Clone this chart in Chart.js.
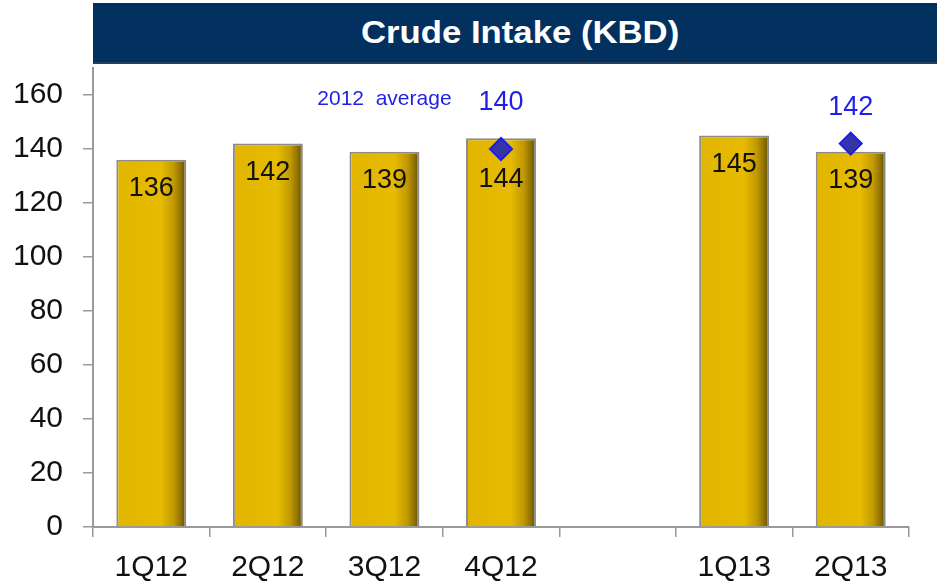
<!DOCTYPE html>
<html>
<head>
<meta charset="utf-8">
<script src="https://cdn.jsdelivr.net/npm/chart.js@4"></script>
<style>
  html, body { margin: 0; padding: 0; background: #fff; }
  #wrap { position: relative; width: 937px; height: 583px; }
  #title {
    position: absolute; left: 93px; top: 3px; width: 844px; height: 59px;
    background: #02315f; border-bottom: 2px solid #28405a;
    color: #fff; font: bold 31px "Liberation Sans", Arial, sans-serif;
    display: flex; align-items: center; justify-content: center;
  }
  #title span { display: inline-block; transform: scaleX(1.12); margin-left: 10px; }
  canvas { position: absolute; left: 0; top: 0; }
</style>
</head>
<body>
<div id="wrap">
  <canvas id="chart" width="937" height="583"></canvas>
  <div id="title"><span>Crude Intake (KBD)</span></div>
</div>
<script>
// quarters (blank slot separates the two years)
const quarters = ['1Q12', '2Q12', '3Q12', '4Q12', '', '1Q13', '2Q13'];
const intake = [136, 142, 139, 144, null, 145, 139];
const averages = [null, null, null, 140, null, null, 142];
const avgNote = '2012  average';
const avgNoteAt = { index: 2, value: 158.5 };
const yTicks = { min: 0, max: 170, step: 20 };

const font = '"Liberation Sans", Arial, sans-serif';
const barPct = 0.6;

let goldFill = (c) => {
    const chart = c.chart;
    const xs = chart.scales.x;
    if (!xs || !chart.chartArea) return '#e3b600';
    const cx = xs.getPixelForValue(c.dataIndex);
    const w = xs.width / quarters.length * barPct;
    const g = chart.ctx.createLinearGradient(cx - w / 2, 0, cx + w / 2, 0);
    g.addColorStop(0, '#e2b500');
    g.addColorStop(0.64, '#e6bb00');
    g.addColorStop(0.82, '#c29a00');
    g.addColorStop(0.93, '#8c7000');
    g.addColorStop(1, '#5e4b00');
    return g;
}

const valueLabels = {
    id: 'valueLabels',
    afterDatasetsDraw(chart) {
        const ctx = chart.ctx;
        const bars = chart.getDatasetMeta(1);
        const pts = chart.getDatasetMeta(0);
        ctx.save();
        ctx.textAlign = 'center';
        ctx.textBaseline = 'middle';

        // bar values, pushed below the diamond when one sits on the bar
        ctx.font = '27px ' + font;
        ctx.fillStyle = '#111';
        bars.data.forEach((el, i) => {
            if (intake[i] == null) return;
            let y = el.y + 29;
            if (averages[i] != null) y = Math.max(y, pts.data[i].y + 31);
            ctx.fillText(String(intake[i]), el.x, y);
        });

        // average values above the higher of bar top / diamond
        ctx.fillStyle = '#1f1fe6';
        pts.data.forEach((el, i) => {
            if (averages[i] == null) return;
            const top = intake[i] != null ? Math.min(el.y, bars.data[i].y) : el.y;
            ctx.fillText(String(averages[i]), el.x, top - 36);
        });

        ctx.font = '21px ' + font;
        ctx.fillText(avgNote,
            chart.scales.x.getPixelForValue(avgNoteAt.index),
            chart.scales.y.getPixelForValue(avgNoteAt.value));
        ctx.restore();
    }
};

new Chart(document.getElementById('chart'), {
    type: 'bar',
    data: {
        labels: quarters,
        datasets: [
            {
                type: 'line',
                label: '2012 average',
                data: averages,
                showLine: false,
                pointStyle: 'rectRot',
                pointRadius: 11,
                backgroundColor: '#3535a8',
                borderColor: '#1c1cf0',
                borderWidth: 2,
                order: 0
            },
            {
                label: 'Crude Intake',
                data: intake,
                backgroundColor: goldFill,
                borderColor: '#8c8c8c',
                borderWidth: 2,
                barPercentage: barPct,
                categoryPercentage: 1,
                order: 1
            }
        ]
    },
    options: {
        responsive: false,
        animation: false,
        layout: { padding: { top: 68, right: 28, left: 0, bottom: 0 } },
        plugins: { legend: { display: false }, tooltip: { enabled: false } },
        scales: {
            x: {
                grid: { drawOnChartArea: false, tickLength: 10, color: '#9a9a9a', lineWidth: 1.5, offset: true },
                border: { color: '#9a9a9a', width: 2 },
                ticks: { color: '#111', font: { family: font, size: 30 }, padding: 13, maxRotation: 0 },
                afterFit: (s) => { s.height = 56; }
            },
            y: {
                min: yTicks.min,
                max: yTicks.max,
                grid: { drawOnChartArea: false, tickLength: 10, color: '#9a9a9a', lineWidth: 1.5 },
                border: { color: '#9a9a9a', width: 2 },
                ticks: { stepSize: yTicks.step, includeBounds: false, color: '#111', font: { family: font, size: 30 }, padding: 20 },
                afterFit: (s) => { s.width = 93; }
            }
        }
    },
    plugins: [valueLabels]
});
</script>
</body>
</html>
